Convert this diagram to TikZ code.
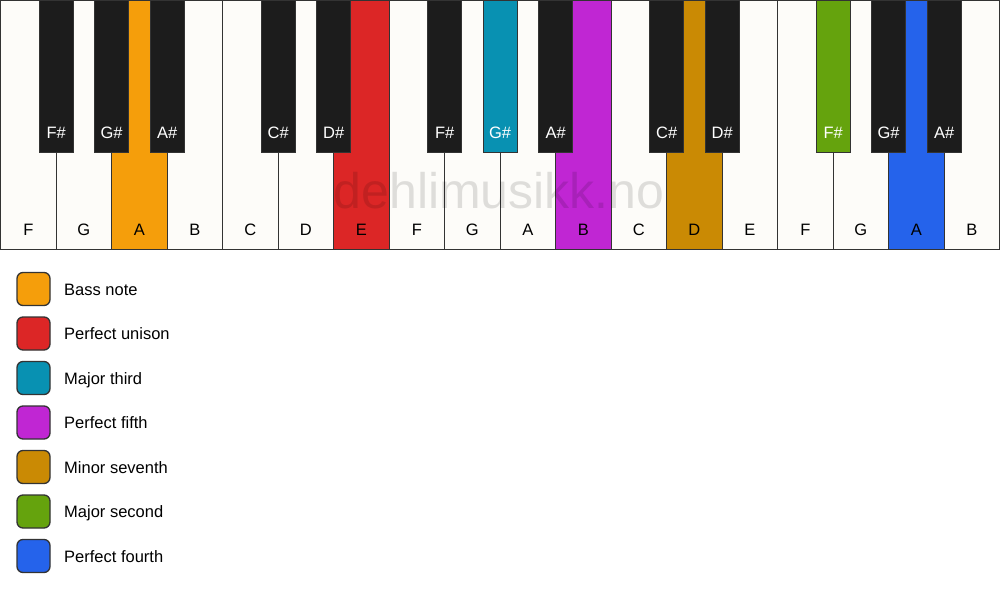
\documentclass[tikz,border=0pt]{standalone}
\usepackage{fontspec}
\setmainfont{Liberation Sans}

\definecolor{keywhite}{HTML}{FDFCF9}
\definecolor{keyblack}{HTML}{1C1C1C}
\definecolor{keyline}{HTML}{333333}
\definecolor{bassnote}{HTML}{F59E0B}
\definecolor{unison}{HTML}{DC2626}
\definecolor{majthird}{HTML}{0891B2}
\definecolor{perffifth}{HTML}{C026D3}
\definecolor{minseventh}{HTML}{CA8A04}
\definecolor{majsecond}{HTML}{65A30D}
\definecolor{perffourth}{HTML}{2563EB}

\begin{document}
\begin{tikzpicture}[x=1pt,y=-1pt,
    whitekey/.style={draw=keyline, line width=1.3pt},
    blackkey/.style={draw=keyline, line width=1.3pt},
    keylabel/.style={anchor=base, font=\fontsize{16.5}{19}\selectfont, inner sep=0pt},
    legendbox/.style={draw=keyline, line width=1.3pt, rounded corners=6pt},
    legendtext/.style={anchor=base west, font=\fontsize{16.5}{19}\selectfont, inner sep=0pt}]
    % Define canvas and key sizes
    \useasboundingbox (0,0) rectangle (1000,594);
    \fill[white] (0,0) rectangle (1000,594);
    \def\kw{55.5}

    % Draw white keys
    \foreach \n/\col [count=\i from 0] in {F/keywhite,G/keywhite,A/bassnote,B/keywhite,C/keywhite,D/keywhite,E/unison,F/keywhite,G/keywhite,A/keywhite,B/perffifth,C/keywhite,D/minseventh,E/keywhite,F/keywhite,G/keywhite,A/perffourth,B/keywhite} {
        \draw[whitekey, fill=\col] ({\i*\kw+0.65},0.65) rectangle ({(\i+1)*\kw+0.65},249.35);
        \node[keylabel] (w\i) at ({(\i+0.5)*\kw+0.65},235.5) {\n};
    }

    % Watermark
    \node[anchor=base, font=\fontsize{50}{58}\selectfont, text=black, text opacity=0.12, inner sep=0pt] (mark) at (499,208) {dehlimusikk.no};

    % Draw black keys on the boundaries between white keys
    \foreach \b/\n/\col in {1/F\#/keyblack,2/G\#/keyblack,3/A\#/keyblack,5/C\#/keyblack,6/D\#/keyblack,8/F\#/keyblack,9/G\#/majthird,10/A\#/keyblack,12/C\#/keyblack,13/D\#/keyblack,15/F\#/majsecond,16/G\#/keyblack,17/A\#/keyblack} {
        \coordinate (c\b) at ({\b*\kw+0.65},0);
        \draw[blackkey, fill=\col] ([xshift=-17pt]c\b) rectangle ([xshift=17pt,yshift=-152.5pt]c\b);
        \node[keylabel, text=white] (s\b) at ([yshift=-138.5pt]c\b) {\n};
    }

    % Legend
    \foreach \col/\txt [count=\k from 0] in {bassnote/Bass note,unison/Perfect unison,majthird/Major third,perffifth/Perfect fifth,minseventh/Minor seventh,majsecond/Major second,perffourth/Perfect fourth} {
        \draw[legendbox, fill=\col] (17,{272.5+\k*44.5}) rectangle (50,{305.5+\k*44.5});
        \node[legendtext] (l\k) at (64,{295+\k*44.5}) {\txt};
    }
\end{tikzpicture}
\end{document}
